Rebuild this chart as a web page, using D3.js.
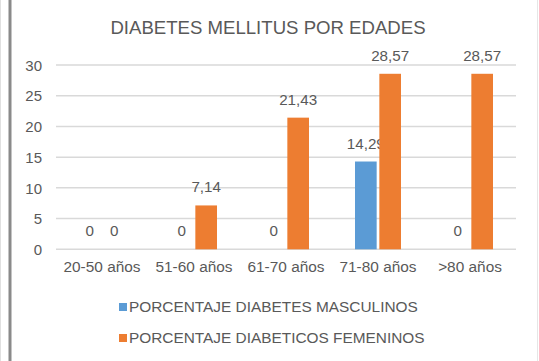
<!DOCTYPE html>
<html><head><meta charset="utf-8">
<script src="https://cdn.jsdelivr.net/npm/d3@7"></script>
<style>html,body{margin:0;padding:0;background:#fff;}svg{display:block;}</style>
</head><body>
<script>
const categories = ["20-50 años","51-60 años","61-70 años","71-80 años",">80 años"];
const seriesNames = ["PORCENTAJE DIABETES MASCULINOS","PORCENTAJE DIABETICOS FEMENINOS"];
const masculinos = [0, 0, 0, 14.29, 0];
const femeninos = [0, 7.14, 21.43, 28.57, 28.57];
const yTicks = [0,5,10,15,20,25,30];
const labelText = ["0","0","0","14,29","0"];
const labelTextF = ["0","7,14","21,43","28,57","28,57"];
const colors = ["#5b9bd5","#ed7d31"];

const W=539,H=361;
const svg=d3.select("body").append("svg").attr("width",W).attr("height",H);
const font="'Liberation Sans', Arial, sans-serif";
const txt="#595959";

// frame
svg.append("rect").attr("x",0).attr("y",0).attr("width",W).attr("height",H).attr("fill","#fff");
svg.append("line").attr("x1",0.5).attr("x2",0.5).attr("y1",0).attr("y2",H).attr("stroke","#e0e0e0");
svg.append("line").attr("x1",10).attr("x2",10).attr("y1",0).attr("y2",H).attr("stroke","#8a8a8a").attr("stroke-width",3);
svg.append("line").attr("x1",537.5).attr("x2",537.5).attr("y1",0).attr("y2",H).attr("stroke","#e6e6e6");

const x0=56,x1=516,yTop=65,yBot=249.3;
const x=d3.scaleBand().domain(categories).range([x0,x1]).padding(0);
const y=d3.scaleLinear().domain([0,30]).range([yBot,yTop]);

// title
svg.append("text").attr("x",268).attr("y",33.5).attr("text-anchor","middle")
  .attr("font-family",font).attr("font-size",18.6).attr("fill",txt).text("DIABETES MELLITUS POR EDADES");

// gridlines
svg.append("g").selectAll("line").data(yTicks).join("line")
  .attr("x1",x0).attr("x2",x1).attr("y1",d=>y(d)).attr("y2",d=>y(d))
  .attr("stroke","#d9d9d9").attr("stroke-width",1.5);

// y axis labels
const yAxis=d3.axisLeft(y).tickValues(yTicks).tickSize(0).tickPadding(0);
const ya=svg.append("g").attr("transform",`translate(42,0)`).call(yAxis);
ya.select(".domain").remove();
ya.selectAll("text").attr("font-family",font).attr("font-size",15).attr("fill",txt).attr("dy","0.35em");

// x axis labels
const xAxis=d3.axisBottom(x).tickSize(0).tickPadding(0);
const xa=svg.append("g").attr("transform",`translate(0,261)`).call(xAxis);
xa.select(".domain").remove();
xa.selectAll("text").attr("font-family",font).attr("font-size",15.4).attr("fill",txt).attr("dy","0.71em");

// bars
const inner=d3.scaleBand().domain([0,1]).range([-23,23]).paddingInner(0.11).paddingOuter(0);
const series=[masculinos,femeninos];
const labels=[labelText,labelTextF];
series.forEach((vals,si)=>{
  const g=svg.append("g");
  g.selectAll("rect").data(vals).join("rect")
    .attr("x",(d,i)=>x(categories[i])+x.bandwidth()/2+inner(si))
    .attr("width",inner.bandwidth())
    .attr("y",d=>y(d)).attr("height",d=>y(0)-y(d))
    .attr("fill",colors[si]);
  g.selectAll("text").data(vals).join("text")
    .attr("x",(d,i)=>x(categories[i])+x.bandwidth()/2+inner(si)+inner.bandwidth()/2)
    .attr("y",d=>y(d)-13)
    .attr("text-anchor","middle").attr("font-family",font).attr("font-size",15.2).attr("fill",txt)
    .text((d,i)=>labels[si][i]);
});

// legend
const leg=svg.append("g");
seriesNames.forEach((n,i)=>{
  const yy=307+i*31;
  leg.append("rect").attr("x",119).attr("y",yy-4).attr("width",8).attr("height",8).attr("fill",colors[i]);
  leg.append("text").attr("x",129).attr("y",yy).attr("dy","0.35em").attr("font-family",font)
    .attr("font-size",15.4).attr("fill",txt).text(n);
});
</script>
</body></html>
